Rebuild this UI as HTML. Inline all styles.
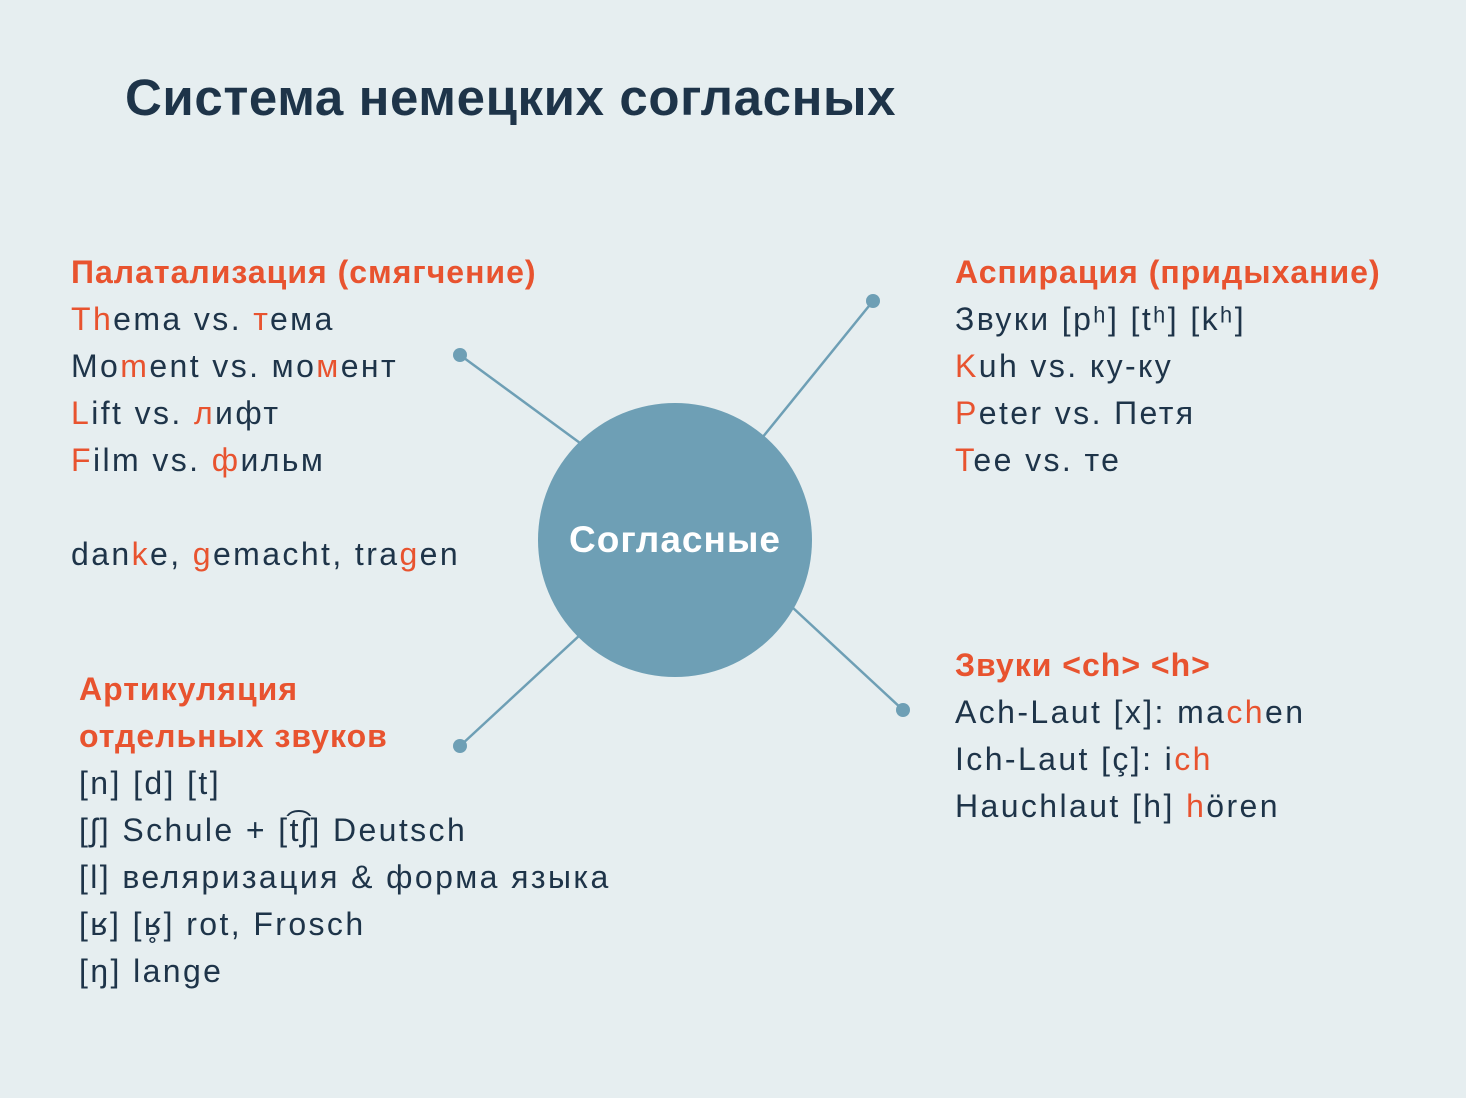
<!DOCTYPE html>
<html><head><meta charset="utf-8">
<style>
html,body{margin:0;padding:0}
body{width:1466px;height:1098px;background:#e6eef0;position:relative;overflow:hidden;font-family:"Liberation Sans","DejaVu Sans",sans-serif;color:#1e3449}
.t{position:absolute;left:125px;top:68px;font-size:51px;font-weight:bold;color:#1e3449;letter-spacing:0.6px}
.b{position:absolute;font-size:32px;line-height:47px;white-space:nowrap;letter-spacing:2.4px}
.h{color:#e8532f;font-weight:bold;letter-spacing:1px}
.o{color:#e8532f}
svg{position:absolute;left:0;top:0}
.c{position:absolute;left:538px;top:403px;width:274px;height:274px;display:flex;align-items:center;justify-content:center;color:#fff;font-weight:bold;font-size:37px;letter-spacing:1px}
</style></head><body>
<svg width="1466" height="1098">
<g stroke="#6e9fb5" stroke-width="2.5">
<line x1="460" y1="355" x2="580" y2="443"/>
<line x1="873" y1="301" x2="762" y2="438"/>
<line x1="580" y1="635" x2="460" y2="746"/>
<line x1="792" y1="607" x2="903" y2="710"/>
</g>
<g fill="#6e9fb5">
<circle cx="460" cy="355" r="7"/><circle cx="873" cy="301" r="7"/>
<circle cx="460" cy="746" r="7"/><circle cx="903" cy="710" r="7"/>
<circle cx="675" cy="540" r="137"/>
</g>
</svg>
<div class="c">Согласные</div>
<div class="t">Система немецких согласных</div>
<div class="b" style="left:71px;top:249px">
<div class="h">Палатализация (смягчение)</div>
<div><span class="o">Th</span>ema vs. <span class="o">т</span>ема</div>
<div>Mo<span class="o">m</span>ent vs. мо<span class="o">м</span>ент</div>
<div><span class="o">L</span>ift vs. <span class="o">л</span>ифт</div>
<div><span class="o">F</span>ilm vs. <span class="o">ф</span>ильм</div>
<div>&nbsp;</div>
<div>dan<span class="o">k</span>e, <span class="o">g</span>emacht, tra<span class="o">g</span>en</div>
</div>
<div class="b" style="left:79px;top:666px">
<div class="h">Артикуляция</div>
<div class="h">отдельных звуков</div>
<div>[n] [d] [t]</div>
<div>[ʃ] Schule + [t͡ʃ] Deutsch</div>
<div>[l] веляризация &amp; форма языка</div>
<div>[ʁ] [ʁ̥] rot, Frosch</div>
<div>[ŋ] lange</div>
</div>
<div class="b" style="left:955px;top:249px">
<div class="h">Аспирация (придыхание)</div>
<div>Звуки [pʰ] [tʰ] [kʰ]</div>
<div><span class="o">K</span>uh vs. ку-ку</div>
<div><span class="o">P</span>eter vs. Петя</div>
<div><span class="o">T</span>ee vs. те</div>
</div>
<div class="b" style="left:955px;top:642px">
<div class="h">Звуки &lt;ch&gt; &lt;h&gt;</div>
<div>Ach-Laut [x]: ma<span class="o">ch</span>en</div>
<div>Ich-Laut [ç]: i<span class="o">ch</span></div>
<div>Hauchlaut [h] <span class="o">h</span>ören</div>
</div>
</body></html>
